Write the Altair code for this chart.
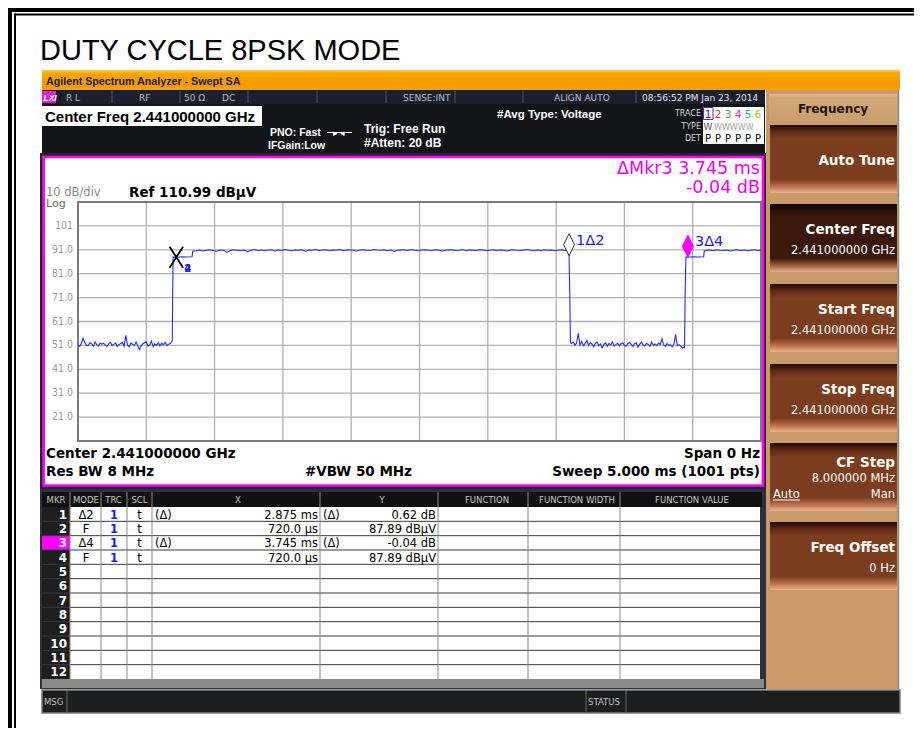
import altair as alt
import pandas as pd

# Trace 1 (dBuV): plateau samples at a fixed spacing, plus the edge points
low_a_t0, low_a_step = 0.000, 0.0125
low_a = [51.2, 50.6, 51.9, 54.0, 52.3, 50.9, 51.0, 52.2, 51.6, 50.7,
         52.4, 51.3, 50.8, 52.0, 51.5, 51.9, 51.0, 50.5, 51.7, 52.3,
         50.9, 51.4, 52.0, 50.6, 51.3, 51.8, 52.2, 50.7, 55.2, 51.1,
         50.4, 52.0, 51.5, 51.0, 52.4, 50.8, 49.2, 50.9, 51.7, 52.1,
         52.5, 50.7, 51.2, 52.8, 50.5, 51.6, 51.0, 52.1, 50.8, 51.9,
         51.2, 52.3, 50.9, 51.5, 51.8, 52.6]
edge1_t = [0.690, 0.696, 0.720, 0.760, 0.800, 0.835, 0.840]
edge1_v = [52.9, 88.0, 87.9, 88.1, 88.0, 88.1, 90.4]
high_a_t0, high_a_step = 0.865, 0.025
high_a = [90.6, 90.9, 90.5, 90.8, 91.0, 90.7, 90.4, 90.9, 90.8, 89.9,
          90.7, 91.0, 90.8, 90.6, 90.9, 90.2, 90.8, 91.1, 90.7, 90.9,
          90.6, 90.8, 91.0, 90.5, 90.9, 90.7, 91.1, 90.8, 90.6, 90.9,
          90.8, 91.0, 90.4, 90.9, 90.8, 91.1, 90.7, 90.9, 91.0, 90.6,
          90.9, 90.8, 91.1, 90.7, 90.9, 91.0, 90.8, 90.5, 90.9, 91.0,
          90.8, 90.7, 91.1, 90.9, 90.8, 91.0, 90.6, 90.9, 90.3, 90.8,
          91.0, 90.9, 90.7, 91.1, 90.8, 90.6, 90.9, 91.0, 90.8, 90.7,
          91.0, 90.9, 90.5, 90.8, 91.0, 90.9, 90.7, 90.8, 91.1, 90.6,
          90.9, 90.8, 90.7, 91.0, 90.9, 90.6, 90.8, 91.0, 90.7, 90.9,
          90.8, 90.5, 90.9, 91.0, 90.8, 90.7, 90.9, 91.1, 90.8, 90.6,
          90.9, 90.7, 91.0, 90.8, 90.9, 90.6, 90.8, 91.0, 90.7, 90.9]
edge2_t = [3.595, 3.600, 3.605]
edge2_v = [88.5, 73.0, 52.0]
low_b_t0, low_b_step = 3.6125, 0.0125
low_b = [51.8, 52.4, 51.1, 52.0, 56.0, 51.2, 52.6, 50.9, 51.7, 53.1,
         51.0, 52.2, 51.5, 50.4, 51.9, 52.3, 50.8, 51.6, 49.9, 51.4,
         52.0, 50.6, 51.8, 51.1, 52.5, 50.7, 51.3, 51.9, 50.9, 51.6,
         52.1, 51.0, 50.6, 51.7, 52.2, 51.4, 50.5, 51.8, 52.0, 50.2,
         51.5, 52.3, 51.1, 50.8, 51.9, 51.3, 50.7, 52.4, 51.0, 51.6,
         50.9, 52.0, 51.4, 53.8, 51.2, 50.6, 51.8, 51.0, 51.2, 50.4,
         51.5, 55.5, 50.8, 51.3, 50.7, 49.9, 50.3]
edge3_t = [4.440, 4.445, 4.450, 4.465, 4.500, 4.540, 4.580, 4.585]
edge3_v = [49.8, 73.0, 88.0, 87.85, 88.1, 88.0, 88.1, 90.5]
high_b_t0, high_b_step = 4.600, 0.025
high_b = [90.7, 90.9, 90.6, 91.0, 90.8, 90.7, 90.9, 90.5, 90.8, 91.0,
          90.7, 90.9, 90.6, 90.8, 91.0, 90.7, 90.8]

# markers
mk_t = [3.595, 0.720, 4.465, 0.720]
mk_v = [88.51, 87.89, 87.85, 87.89]
mk_lbl = ["1Δ2", "2", "3Δ4", "4"]

# axes
x_grid = [0.5, 1.0, 1.5, 2.0, 2.5, 3.0, 3.5, 4.0, 4.5]
y_grid = [20.99, 30.99, 40.99, 50.99, 60.99, 70.99, 80.99, 90.99, 100.99]
y_lbl = ["21.0", "31.0", "41.0", "51.0", "61.0", "71.0", "81.0", "91.0", "101"]
y_dom = [10.99, 110.99]

# marker table
tbl_mode = ["Δ2", "F", "Δ4", "F"]
tbl_trc = ["1", "1", "1", "1"]
tbl_scl = ["t", "t", "t", "t"]
tbl_xref = ["(Δ)", "", "(Δ)", ""]
tbl_x = ["2.875 ms", "720.0 µs", "3.745 ms", "720.0 µs"]
tbl_yref = ["(Δ)", "", "(Δ)", ""]
tbl_y = ["0.62 dB", "87.89 dBµV", "-0.04 dB", "87.89 dBµV"]
tbl_head = ["MKR", "MODE", "TRC", "SCL", "X", "Y", "FUNCTION", "FUNCTION WIDTH", "FUNCTION VALUE"]

# soft keys
key_title = ["Auto Tune", "Center Freq", "Start Freq", "Stop Freq", "CF Step", "Freq Offset"]
key_value = ["", "2.441000000 GHz", "2.441000000 GHz", "2.441000000 GHz", "8.000000 MHz", "0 Hz"]

# ---------------- build ----------------
def seg(t0, step, vals):
    return [(round(t0 + i * step, 4), v) for i, v in enumerate(vals)]

pts = (seg(low_a_t0, low_a_step, low_a) + list(zip(edge1_t, edge1_v))
       + seg(high_a_t0, high_a_step, high_a) + list(zip(edge2_t, edge2_v))
       + seg(low_b_t0, low_b_step, low_b) + list(zip(edge3_t, edge3_v))
       + seg(high_b_t0, high_b_step, high_b))
trace_df = pd.DataFrame(pts, columns=["t", "v"])
mk_df = pd.DataFrame({"t": mk_t, "v": mk_v, "lbl": mk_lbl})

FI = "DejaVu Sans"
FA = "Liberation Sans, Arial, sans-serif"
FN = "'Liberation Sans Narrow', 'DejaVu Sans Condensed', 'Liberation Sans', sans-serif"

OX, OY = 78, 202
W, H = 683, 239
SVG_W, SVG_H = 906, 720

one = pd.DataFrame({"k": [0]})
layers = []


def rect(x1, y1, x2, y2, fill="transparent", stroke=None, sw=1.0):
    kw = dict(fill=fill)
    if stroke is not None:
        kw.update(stroke=stroke, strokeWidth=sw)
    layers.append(alt.Chart(one).mark_rect(**kw).encode(
        x=alt.value(x1 - OX), x2=alt.value(x2 - OX),
        y=alt.value(y1 - OY), y2=alt.value(y2 - OY)))


def hline(x1, x2, y, color, sw=1.0):
    layers.append(alt.Chart(one).mark_rule(color=color, strokeWidth=sw).encode(
        x=alt.value(x1 - OX), x2=alt.value(x2 - OX), y=alt.value(y - OY)))


def vline(x, y1, y2, color, sw=1.0):
    layers.append(alt.Chart(one).mark_rule(color=color, strokeWidth=sw).encode(
        x=alt.value(x - OX), y=alt.value(y1 - OY), y2=alt.value(y2 - OY)))


def txt(s, x, y, size, color="black", weight="normal", align="left", font=FI, style=None):
    kw = dict(text=s, fontSize=size, fill=color, fontWeight=weight, align=align,
              font=font, baseline="alphabetic")
    if style:
        kw["fontStyle"] = style
    layers.append(alt.Chart(one).mark_text(**kw).encode(
        x=alt.value(x - OX), y=alt.value(y - OY)))


def vgrad(stops):
    return alt.LinearGradient(gradient="linear",
                              stops=[alt.GradientStop(color=c, offset=o) for o, c in stops],
                              x1=0, x2=0, y1=0, y2=1)


# outer page frame
rect(8, 8, 940, 12, "black")
rect(8, 8, 12, 760, "black")
rect(14, 13.5, 940, 15.5, "black")
rect(14, 13.5, 16, 760, "black")

# title
txt("DUTY CYCLE 8PSK MODE", 40, 60, 29, "black", font=FA)

# orange title bar
rect(42, 70, 900, 90, vgrad([(0, "#ffc450"), (0.2, "#fca600"), (0.7, "#f49800"), (1, "#f8a400")]))
txt("Agilent Spectrum Analyzer - Swept SA", 46, 85, 10.7, "#1c1c44", "bold", font=FA)

# right soft-key panel
rect(766, 90, 899, 689, "#c99b6b")
vline(898.5, 90, 689, "#8a8a8a", 1.5)
rect(769, 94, 897, 122, vgrad([(0, "#e2bb8c"), (0.15, "#d2a676"), (1, "#cc9e6e")]))
txt("Frequency", 833, 113, 12, "#1e140a", "bold", "center")

key_tops = [125, 204, 284, 364, 443, 522]
for i, top in enumerate(key_tops):
    if i == 1:
        g = vgrad([(0, "#0c0300"), (0.1, "#2a1004"), (0.2, "#3a190a"), (0.8, "#3a190a"),
                   (0.9, "#9a5a3a"), (1, "#e8b08c")])
    else:
        g = vgrad([(0, "#1e0a02"), (0.1, "#5e2a12"), (0.2, "#7c3c1e"), (0.8, "#7c3c1e"),
                   (0.9, "#b86e4c"), (1, "#eab48e")])
    rect(770, top, 897, top + 68, g)
    if key_value[i] == "":
        txt(key_title[i], 895, top + 40, 13.5, "white", "bold", "right")
    elif i == 4:
        txt(key_title[i], 895, top + 24, 13.5, "white", "bold", "right")
        txt(key_value[i], 895, top + 39, 11.5, "white", "normal", "right")
        txt("Auto", 773, top + 55, 11.5, "white", "normal", "left")
        hline(773, 800, top + 57, "white", 1)
        txt("Man", 895, top + 55, 11.5, "white", "normal", "right")
    else:
        txt(key_title[i], 895, top + 30, 13.5, "white", "bold", "right")
        txt(key_value[i], 895, top + 50, 11.5, "white", "normal", "right")

# status bar
rect(42, 90, 765, 104, "#1b1e2b")
rect(42, 91, 56, 103, "#e020d8")
txt("LXI", 43.5, 101, 8.5, "white", "bold", font=FA, style="italic")
for sx in [112, 180, 248, 317, 386, 455, 523, 636]:
    vline(sx, 91, 103, "#525766", 1)
sb_col = "#b9bcc6"
txt("R L", 66, 101, 9, sb_col)
txt("RF", 139, 101, 9, sb_col)
txt("50 Ω", 184, 101, 9, sb_col)
txt("DC", 222, 101, 9, sb_col)
txt("SENSE:INT", 403, 101, 9, sb_col)
txt("ALIGN AUTO", 554, 101, 9, sb_col)
txt("08:56:52 PM Jan 23, 2014", 642, 101, 9, "#e4e4e8")

# info area
rect(42, 104, 765, 153, "#131418")
rect(42, 106, 262, 126, "white")
txt("Center Freq 2.441000000 GHz", 45, 122, 15, "black", "bold", font=FA)
txt("PNO: Fast", 270, 136, 10.5, "white", "bold", font=FA)
hline(327, 352, 132.5, "white", 1)
txt("▸", 333, 136, 9, "white", font=FI)
txt("◂", 340, 136, 9, "white", font=FI)
txt("IFGain:Low", 268, 149, 10.5, "white", "bold", font=FA)
txt("Trig: Free Run", 364, 133, 12, "white", "bold", font=FA)
txt("#Atten: 20 dB", 364, 147, 12, "white", "bold", font=FA)
txt("#Avg Type: Voltage", 497, 118, 11.5, "white", "bold", font=FA)
txt("TRACE", 701, 116, 8, "#d0d0d0", align="right")
txt("TYPE", 701, 129, 8, "#d0d0d0", align="right")
txt("DET", 701, 141, 8, "#d0d0d0", align="right")
rect(703, 107, 764, 144, "white")
trc_cols = ["#1a1ad0", "#e8303a", "#46b04a", "#e020e0", "#30c070", "#b0c020"]
for i, c in enumerate(trc_cols):
    txt(str(i + 1), 708 + 10 * i, 118, 10.5, c, align="center")
    txt("P", 708 + 10 * i, 142, 10, "black", align="center")
rect(703.5, 107.5, 713, 119.5, stroke="#5a2aa8", sw=1)
txt("W", 708, 130, 9, "#555555", align="center")
txt("WWWWW", 714, 130, 8, "#a0a0a0")

# graph panel
rect(40, 153, 766, 489, "#22252c")
rect(43.6, 157, 763, 485.5, "white", stroke="#ff00ff", sw=2.7)
txt("10 dB/div", 46, 195.5, 11.5, "#8a8a8a")
txt("Log", 46, 207, 11, "#6a6a6a")
txt("Ref 110.99 dBµV", 129, 196.5, 13.5, "black", "bold")
txt("ΔMkr3 3.745 ms", 760, 174, 17.5, "#f000f0", align="right")
txt("-0.04 dB", 760, 193, 17.5, "#f000f0", align="right")
txt("Center 2.441000000 GHz", 46, 458, 13.5, "black", "bold")
txt("Span 0 Hz", 760, 458, 13.5, "black", "bold", "right")
txt("Res BW 8 MHz", 46, 476, 13.5, "black", "bold")
txt("#VBW 50 MHz", 305, 476, 13.5, "black", "bold")
txt("Sweep  5.000 ms (1001 pts)", 760, 476, 13.5, "black", "bold", "right")

# marker table
rect(40, 489, 766, 689, "#2c303c")
rect(42, 492, 762, 507, "#101010")
rect(42, 507, 70, 679, "#1e1e1e")
rect(70, 507, 760, 679, "white")
RH = (679 - 507) / 12.0
rect(42, 507 + 2 * RH, 70, 507 + 3 * RH, "#ff00ff")
for k in range(1, 12):
    hline(70, 760, 507 + k * RH, "#3a3a3a", 1)
    hline(42, 70, 507 + k * RH, "#3a3a3a", 1)
for sx in [70, 101, 127, 152, 320, 438, 528, 620]:
    vline(sx, 492, 679, "#8a8a8a", 1)
rect(42, 679, 764, 688, "#8a8b88")
head_x = [56, 86, 113.5, 139.5, 238, 382, 487, 577, 692]
for s, hx in zip(tbl_head, head_x):
    txt(s, hx, 503, 8.5, "#c4c4c4", align="center")
for r in range(12):
    txt(str(r + 1), 67, 507 + r * RH + 11.5, 12, "white", "bold", "right")
for r in range(4):
    by = 507 + r * RH + 11.5
    txt(tbl_mode[r], 86, by, 11.5, "black", align="center")
    txt(tbl_trc[r], 114, by, 11.5, "#1a1aff", "bold", "center")
    txt(tbl_scl[r], 139.5, by, 11.5, "black", align="center")
    if tbl_xref[r]:
        txt(tbl_xref[r], 155, by, 11.5, "black")
    txt(tbl_x[r], 318, by, 11.5, "black", align="right")
    if tbl_yref[r]:
        txt(tbl_yref[r], 323, by, 11.5, "black")
    txt(tbl_y[r], 436, by, 11.5, "black", align="right")

# message bar
rect(42, 690, 900, 713, "#1b1e1b", stroke="#7c7e80", sw=1.5)
txt("MSG", 44, 705, 8.5, "#c0c0c0")
vline(67, 690, 713, "#6a6a6a", 1)
vline(586, 690, 713, "#6a6a6a", 1)
vline(626, 690, 713, "#6a6a6a", 1)
txt("STATUS", 588, 705, 8.5, "#c0c0c0")

# ---------------- data layers ----------------
xs = alt.Scale(domain=[0, 5], nice=False, zero=False)
ys = alt.Scale(domain=y_dom, nice=False, zero=False)

grid_v = alt.Chart(pd.DataFrame({"t": x_grid})).mark_rule(color="#b0b0b0", strokeWidth=1.3).encode(
    x=alt.X("t:Q", scale=xs, axis=None))
ydf = pd.DataFrame({"v": y_grid, "lbl": y_lbl})
grid_h = alt.Chart(ydf).mark_rule(color="#b0b0b0", strokeWidth=1.3).encode(
    y=alt.Y("v:Q", scale=ys, axis=None))
ylab = alt.Chart(ydf).mark_text(align="right", baseline="middle", fontSize=10.5, font=FN,
                                fill="#9c9c9c").encode(
    y=alt.Y("v:Q", scale=ys, axis=None), x=alt.value(-5), text="lbl:N")
layers += [grid_v, grid_h, ylab]
rect(OX, OY, OX + W, OY + H, stroke="#7a7a7a", sw=2)

trace = alt.Chart(trace_df).mark_line(color="#2030e6", strokeWidth=1.1, clip=True).encode(
    x=alt.X("t:Q", scale=xs, axis=None), y=alt.Y("v:Q", scale=ys, axis=None))
layers.append(trace)

diamond = "M0,-2L0.5,-1L0,0L-0.5,-1Z"
enc = dict(x=alt.X("t:Q", scale=xs, axis=None), y=alt.Y("v:Q", scale=ys, axis=None))
m1 = alt.Chart(mk_df.iloc[[0]]).mark_point(shape=diamond, size=484, filled=True, fill="white",
                                           stroke="#333333", strokeWidth=1, opacity=1).encode(**enc)
m3 = alt.Chart(mk_df.iloc[[2]]).mark_point(shape=diamond, size=484, filled=True, fill="#ff00ff",
                                           stroke="#ff00ff", strokeWidth=1, opacity=1).encode(**enc)
mx = alt.Chart(mk_df.iloc[[1]]).mark_point(shape="M-0.32,-0.5L0.32,0.5M0.32,-0.5L-0.32,0.5",
                                           size=1764, filled=False, color="black",
                                           strokeWidth=1.8, opacity=1).encode(**enc)
lbl_big = alt.Chart(mk_df.iloc[[0, 2]]).mark_text(align="left", dx=7, dy=-15, fontSize=14.5,
                                                  font=FI, fill="#2020e0").encode(text="lbl:N", **enc)
lbl_small = alt.Chart(mk_df.iloc[[1, 3]]).mark_text(align="left", dx=8, dy=12, fontSize=10,
                                                    fontWeight="bold", font=FI, fill="#2020e0").encode(
    text="lbl:N", **enc)
layers += [m1, m3, mx, lbl_big, lbl_small]

chart = alt.layer(*layers).properties(
    width=W, height=H,
    padding={"left": OX - 8, "top": OY - 8, "right": SVG_W - (OX - 8) - W, "bottom": SVG_H - (OY - 8) - H},
    autosize=alt.AutoSizeParams(type="none"),
    background="white",
).configure_view(stroke=None)

chart.save("out.html", embed_options={"renderer": "svg", "actions": False})
